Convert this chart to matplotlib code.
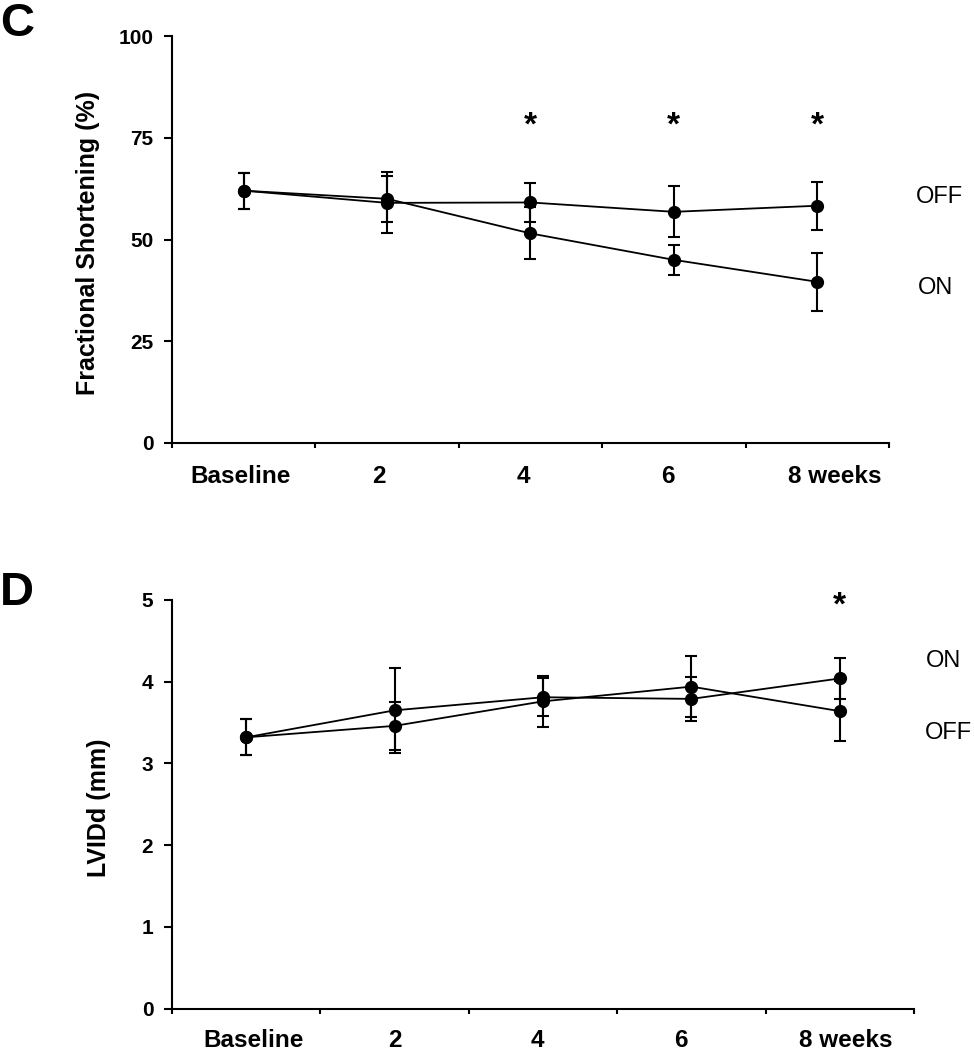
import numpy as np
import matplotlib
matplotlib.use("Agg")
import matplotlib.pyplot as plt

plt.rcParams['font.family'] = ['Liberation Sans', 'DejaVu Sans']

# ---- data ----
categories = ["Baseline", "2", "4", "6", "8 weeks"]

fs_on = [62.0, 60.0, 51.5, 45.0, 39.6]
fs_on_err = [4.4, 5.6, 6.4, 3.7, 7.1]
fs_off = [62.0, 59.0, 59.1, 56.8, 58.3]
fs_off_err = [4.4, 7.5, 4.9, 6.3, 5.9]
fs_star_idx = [2, 3, 4]

lv_on = [3.32, 3.65, 3.81, 3.79, 4.04]
lv_on_err = [0.22, 0.52, 0.23, 0.27, 0.25]
lv_off = [3.32, 3.46, 3.76, 3.94, 3.64]
lv_off_err = [0.22, 0.29, 0.31, 0.37, 0.37]
lv_star_idx = [4]

fs_yticks = [0, 25, 50, 75, 100]
lv_yticks = [0, 1, 2, 3, 4, 5]

fig = plt.figure(figsize=(9.74, 10.5), dpi=100)
ax1 = fig.add_axes([0.1766, 0.5781, 0.9127 - 0.1766, 0.9657 - 0.5781])
ax2 = fig.add_axes([0.1766, 0.0393, 0.9384 - 0.1766, 0.4286 - 0.0393])

x = np.arange(len(categories)) + 0.5


def style_axis(ax, ymax, yticks, label_pos, pad):
    ax.set_xlim(0, len(categories))
    ax.set_ylim(0, ymax)
    for s in ['top', 'right']:
        ax.spines[s].set_visible(False)
    for s in ['left', 'bottom']:
        ax.spines[s].set_linewidth(1.5)
    ax.set_yticks(yticks)
    ax.set_yticklabels([str(t) for t in yticks], fontsize=15, fontweight='bold')
    ax.tick_params(axis='y', direction='out', length=6, width=1.5, pad=7.5)
    ax.set_xticks(np.arange(len(categories) + 1))
    ax.set_xticklabels([])
    ax.tick_params(axis='x', which='major', direction='out', length=3.6, width=1.5)
    ax.set_xticks(label_pos, minor=True)
    ax.set_xticklabels(categories, minor=True, fontsize=17.5, fontweight='bold')
    ax.tick_params(axis='x', which='minor', length=0, pad=pad)


def draw_series(ax, y, err):
    ax.errorbar(x, y, yerr=err, color='black', lw=1.3, elinewidth=1.5,
                capsize=4.3, capthick=1.5, marker='o', markersize=8.5,
                clip_on=False, zorder=3)


# ---- top panel ----
style_axis(ax1, 100, fs_yticks, [0.48, 1.44, 2.45, 3.46, 4.62], 16)
draw_series(ax1, fs_off, fs_off_err)
draw_series(ax1, fs_on, fs_on_err)
for i in fs_star_idx:
    ax1.text(x[i], 77.9, '*', ha='center', va='center', fontsize=24,
             fontweight='bold')
ax1.text(5.19, 60.5, 'OFF', ha='left', va='center', fontsize=17, clip_on=False)
ax1.text(5.20, 38.2, 'ON', ha='left', va='center', fontsize=17, clip_on=False)

# ---- bottom panel ----
style_axis(ax2, 5, lv_yticks, [0.55, 1.5, 2.46, 3.43, 4.54], 14.5)
draw_series(ax2, lv_off, lv_off_err)
draw_series(ax2, lv_on, lv_on_err)
for i in lv_star_idx:
    ax2.text(x[i], 4.92, '*', ha='center', va='center', fontsize=24,
             fontweight='bold', clip_on=False)
ax2.text(5.08, 4.25, 'ON', ha='left', va='center', fontsize=17, clip_on=False)
ax2.text(5.07, 3.37, 'OFF', ha='left', va='center', fontsize=17, clip_on=False)

# ---- axis titles & panel letters ----
fig.text(0.0905, 0.7686, 'Fractional Shortening (%)', rotation=90, ha='center',
         va='center', fontsize=18, fontweight='bold')
fig.text(0.1014, 0.231, 'LVIDd (mm)', rotation=90, ha='center',
         va='center', fontsize=18, fontweight='bold')
fig.text(0.0, 1 - 2 / 1050, 'C', ha='left', va='top', fontsize=34, fontweight='bold')
fig.text(0.0, 1 - 571 / 1050, 'D', ha='left', va='top', fontsize=34, fontweight='bold')

fig.savefig('out.png', dpi=100)
